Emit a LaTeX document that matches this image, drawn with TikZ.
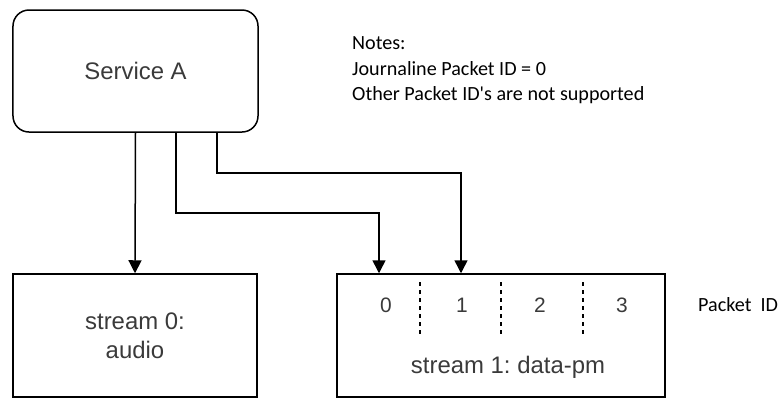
\documentclass[tikz,border=0pt]{standalone}
\usepackage{fontspec}
\setmainfont{Liberation Sans}
\newfontfamily\notefont{Carlito}
\usetikzlibrary{arrows.meta}
\frenchspacing
\definecolor{boxtxt}{HTML}{3A3A3A}
\tikzset{
  box/.style={draw=black, line width=1.5bp, inner sep=0pt, text=boxtxt,
              font=\fontsize{24}{29}\selectfont, align=center},
  arr/.style={draw=black, line width=1.5bp, -{Triangle[length=13bp,width=13bp]}},
  note/.style={font=\notefont\fontsize{20.2}{26}\selectfont, text=black, inner sep=0pt, align=left},
  sep/.style={draw=black, line width=1.6bp, dash pattern=on 4bp off 4bp},
  digit/.style={font=\fontsize{21}{25}\selectfont, text=boxtxt, inner sep=0pt}
}
\begin{document}
\begin{tikzpicture}[x=1bp,y=-1bp]
\useasboundingbox (0,0) rectangle (781,401);
\node[box, rounded corners=16bp, minimum width=245bp, minimum height=122bp] (sa) at (135.5,71) {Service A};
\node[box, minimum width=244bp, minimum height=123bp] (s0) at (135,335.5) {stream 0:\\audio};
\node[box, minimum width=328bp, minimum height=123bp] (s1) at (501,335.5) {};
\node[font=\fontsize{24}{29}\selectfont, text=boxtxt, inner sep=0pt] (s1t) at (508,367) {stream 1: data-pm};
\node[digit] (d0) at (386,305) {0};
\node[digit] (d1) at (462,305) {1};
\node[digit] (d2) at (540,305) {2};
\node[digit] (d3) at (622,305) {3};
\draw[sep] (420,282) -- (420,337);
\draw[sep] (501,282) -- (501,337);
\draw[sep] (583,282) -- (583,337);
\node[note, anchor=west] (pid) at (698,305) {Packet\ \ ID};
\node[note, anchor=north west] (notes) at (352,36) {Notes:\\Journaline Packet ID = 0\\Other Packet ID's are not supported};
\draw[arr] (sa.south) -- (s0.north);
\coordinate (x2) at (176,0);
\coordinate (c2) at (379,213);
\draw[arr] (sa.south -| x2) |- (c2) -- (s1.north -| c2);
\coordinate (x3) at (217,0);
\coordinate (c3) at (461,173);
\draw[arr] (sa.south -| x3) |- (c3) -- (s1.north -| c3);
\end{tikzpicture}
\end{document}
